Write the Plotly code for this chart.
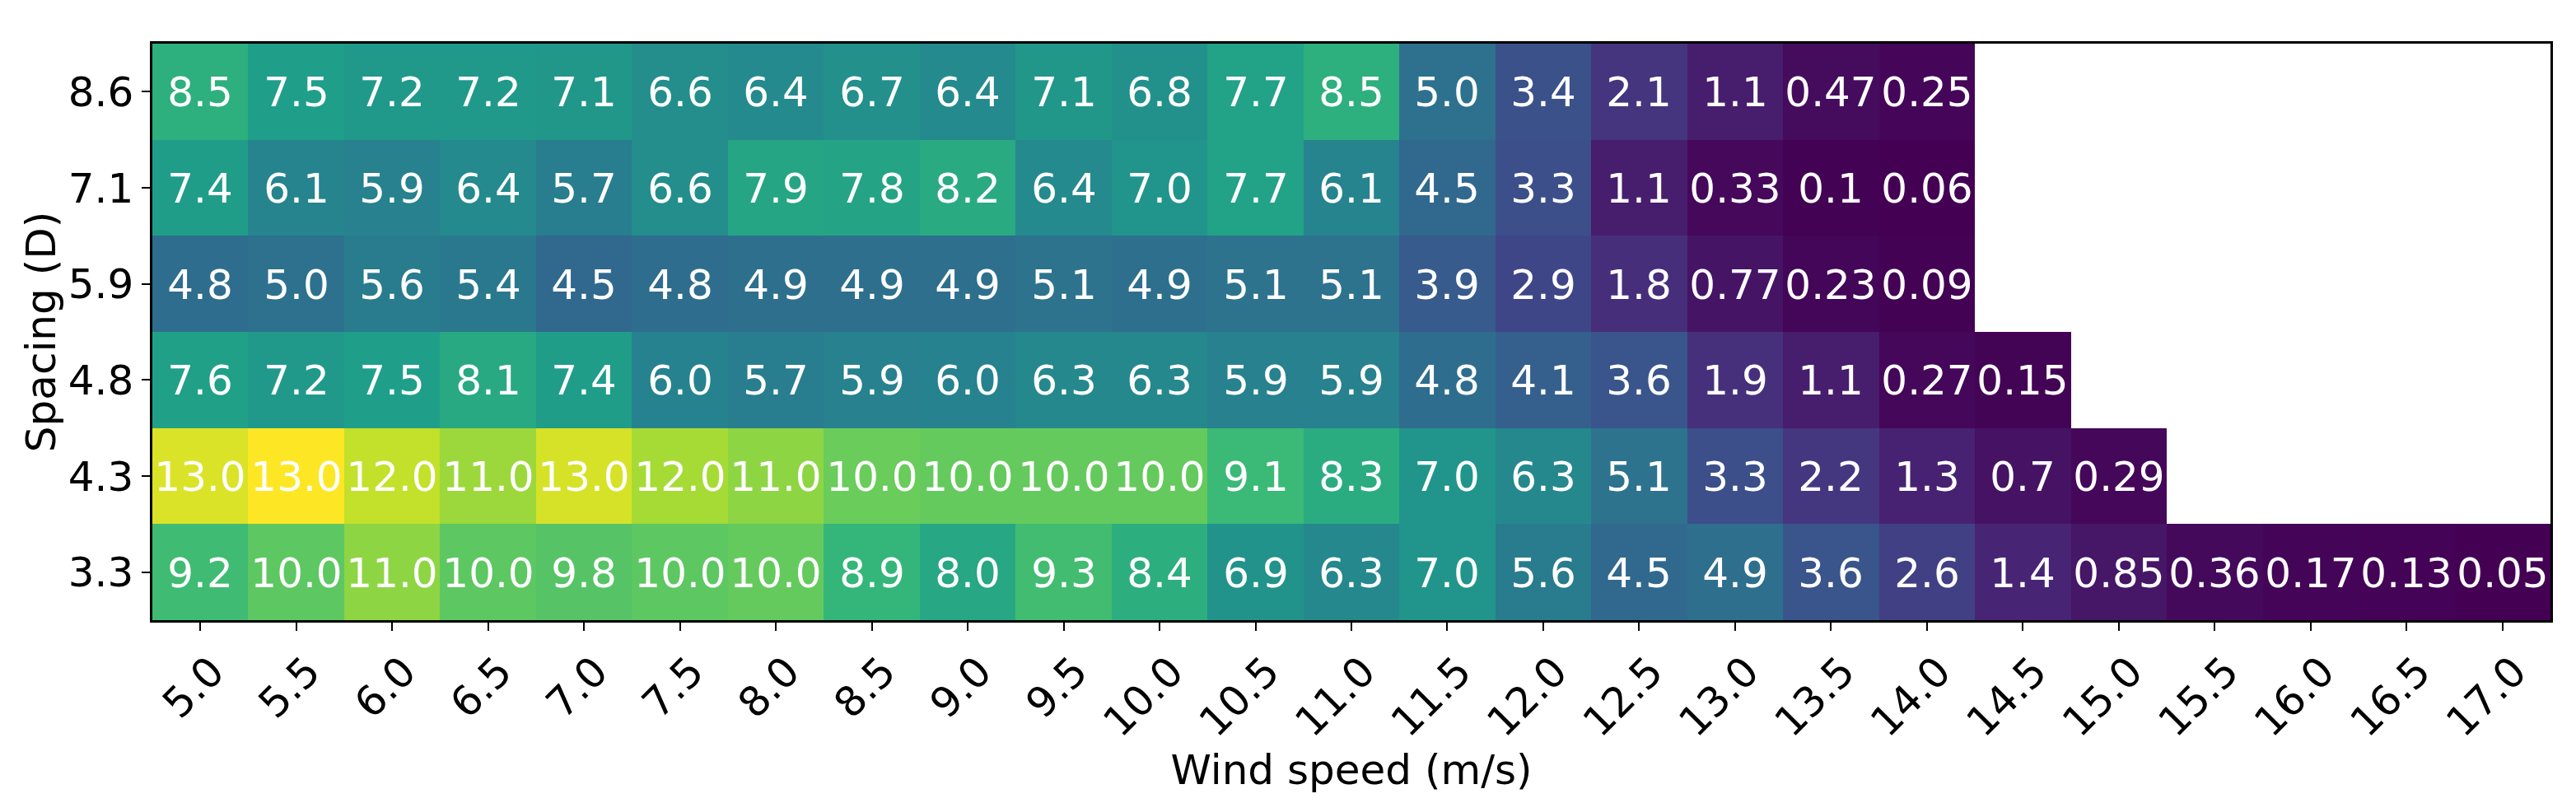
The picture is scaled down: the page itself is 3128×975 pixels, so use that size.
import math
import plotly.graph_objects as go

# x categories (wind speed, m/s) and y categories (turbine spacing, D), bottom to top
wind_speed = ["5.0", "5.5", "6.0", "6.5", "7.0", "7.5", "8.0", "8.5", "9.0", "9.5",
              "10.0", "10.5", "11.0", "11.5", "12.0", "12.5", "13.0", "13.5", "14.0",
              "14.5", "15.0", "15.5", "16.0", "16.5", "17.0"]
spacing = ["3.3", "4.3", "4.8", "5.9", "7.1", "8.6"]

# cell values (None = no data)
row_3_3 = [9.2, 10.0, 11.1, 10.0, 9.8, 10.0, 10.2, 8.9, 8.0, 9.3, 8.4, 6.9, 6.3, 7.0,
           5.6, 4.5, 4.9, 3.6, 2.6, 1.4, 0.85, 0.36, 0.17, 0.13, 0.05]
row_4_3 = [12.7, 13.4, 12.2, 11.4, 12.6, 11.6, 11.1, 10.3, 10.2, 10.2, 10.2, 9.1, 8.3,
           7.0, 6.3, 5.1, 3.3, 2.2, 1.3, 0.7, 0.29, None, None, None, None]
row_4_8 = [7.6, 7.2, 7.5, 8.1, 7.4, 6.0, 5.7, 5.9, 6.0, 6.3, 6.3, 5.9, 5.9, 4.8, 4.1,
           3.6, 1.9, 1.1, 0.27, 0.15, None, None, None, None, None]
row_5_9 = [4.8, 5.0, 5.6, 5.4, 4.5, 4.8, 4.9, 4.9, 4.9, 5.1, 4.9, 5.1, 5.1, 3.9, 2.9,
           1.8, 0.77, 0.23, 0.09, None, None, None, None, None, None]
row_7_1 = [7.4, 6.1, 5.9, 6.4, 5.7, 6.6, 7.9, 7.8, 8.2, 6.4, 7.0, 7.7, 6.1, 4.5, 3.3,
           1.1, 0.33, 0.1, 0.06, None, None, None, None, None, None]
row_8_6 = [8.5, 7.5, 7.2, 7.2, 7.1, 6.6, 6.4, 6.7, 6.4, 7.1, 6.8, 7.7, 8.5, 5.0, 3.4,
           2.1, 1.1, 0.47, 0.25, None, None, None, None, None, None]

z = [row_3_3, row_4_3, row_4_8, row_5_9, row_7_1, row_8_6]


def fmt(v):
    # two significant figures, printed as a float
    if v is None:
        return ""
    return str(round(v, 1 - int(math.floor(math.log10(abs(v))))))


labels = [[fmt(v) for v in row] for row in z]

FONT = "DejaVu Sans"
SIZE = 50

fig = go.Figure(go.Heatmap(
    x=wind_speed,
    y=spacing,
    z=z,
    text=labels,
    texttemplate="%{text}",
    textfont=dict(family=FONT, size=SIZE, color="white"),
    colorscale="Viridis",
    showscale=False,
    hoverongaps=False,
))

axis_style = dict(
    type="category",
    showgrid=False,
    zeroline=False,
    showline=True,
    linecolor="black",
    linewidth=2.5,
    mirror=True,
    ticks="outside",
    ticklen=10,
    tickwidth=2,
    tickcolor="black",
    tickfont=dict(family=FONT, size=SIZE, color="black"),
)

fig.update_xaxes(axis_style, tickangle=-45, ticklabelshift=14,
                 title=dict(text="Wind speed (m/s)", standoff=0,
                            font=dict(family=FONT, size=SIZE, color="black")))
fig.update_yaxes(axis_style,
                 title=dict(text="Spacing (D)", standoff=0,
                            font=dict(family=FONT, size=SIZE, color="black")))

# page body has an 8px margin, so the figure is 16px smaller and margins shifted
fig.update_layout(
    width=3112,
    height=959,
    margin=dict(l=177, r=23, t=45, b=214, autoexpand=False),
    plot_bgcolor="white",
    paper_bgcolor="white",
    font=dict(family=FONT, color="black"),
)

fig.write_html("out.html")
